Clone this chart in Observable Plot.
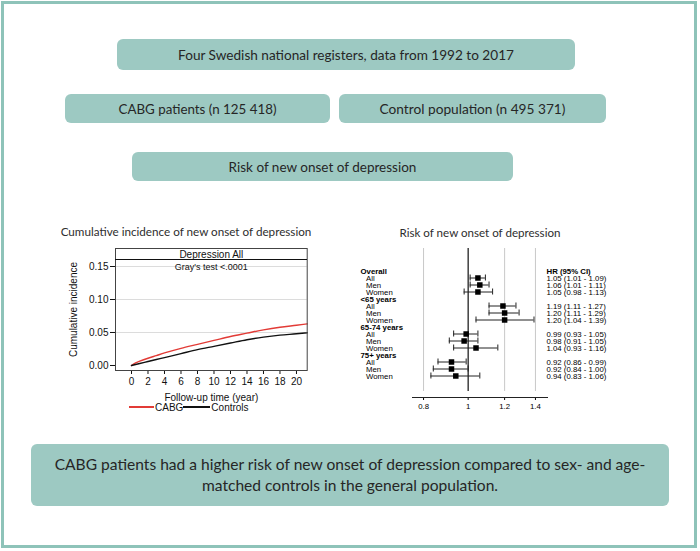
<!DOCTYPE html>
<html><head><meta charset="utf-8">
<script src="https://cdn.jsdelivr.net/npm/d3@7"></script>
<script src="https://cdn.jsdelivr.net/npm/@observablehq/plot@0.6"></script>
<style>
body{margin:0;background:#fff;}
#page{position:relative;width:700px;height:551px;overflow:hidden;background:#fff;font-family:Lato,"Open Sans",sans-serif;}
.frame{position:absolute;left:1px;top:1px;width:696px;height:547px;box-sizing:border-box;border:3.5px solid #8ec3b9;}
.box{position:absolute;background:#9dc9c2;border-radius:6px;display:flex;flex-direction:column;align-items:center;justify-content:center;color:#262626;}
.box span{white-space:nowrap;display:inline-block;}
.title{position:absolute;white-space:nowrap;color:#2e2e2e;transform:translate(-50%,-50%);}
.chart{position:absolute;}
.arial{font-family:Arial,"Liberation Sans",sans-serif;color:#111;}
.hdr{position:absolute;left:115px;top:248px;width:192px;height:12px;border-bottom:1.2px solid #111;box-sizing:border-box;}
.legend{position:absolute;left:129px;top:401px;font-size:10px;line-height:13px;white-space:nowrap;display:flex;align-items:center;}
.legend i{display:inline-block;height:1.5px;position:relative;top:-0.5px;}
</style></head>
<body>
<div id="page">
  <div class="frame"></div>
  <div class="box" style="left:117px;top:39px;width:458px;height:31px;"><span id="t1"></span></div>
  <div class="box" style="left:65px;top:94px;width:265px;height:29px;"><span id="t2"></span></div>
  <div class="box" style="left:339px;top:94px;width:267px;height:29px;"><span id="t3"></span></div>
  <div class="box" style="left:132px;top:152px;width:381px;height:29px;"><span id="t4"></span></div>
  <div class="box" style="left:31px;top:444px;width:638px;height:62px;line-height:21px;"><span id="b1"></span><span id="b2"></span></div>
  <div class="title" id="lt" style="left:186px;top:231px;"></div>
  <div class="title" id="rt" style="left:480px;top:232px;"></div>
  <div class="chart" id="left" style="left:40px;top:240px;"></div>
  <div class="hdr"></div>
  <div class="legend arial" id="legend"></div>
  <div class="chart" id="right" style="left:355px;top:240px;"></div>
</div>
<script>
// ---- texts ----
const boxTexts = ["Four Swedish national registers, data from 1992 to 2017", "CABG patients (n 125 418)", "Control population (n 495 371)", "Risk of new onset of depression"];
const conclusion = ["CABG patients had a higher risk of new onset of depression compared to sex- and age-", "matched controls in the general population."];
const leftTitle = "Cumulative incidence of new onset of depression";
const rightTitle = "Risk of new onset of depression";
const panelTitle = "Depression All";
const testText = "Gray's test <.0001";

// ---- cumulative incidence data ----
const years = [0, 0.5, 1, 2, 3, 4, 6, 8, 10, 12, 14, 16, 18, 20, 21.3];
const cabg = [0, 0.004, 0.0065, 0.011, 0.015, 0.019, 0.026, 0.032, 0.038, 0.044, 0.049, 0.054, 0.058, 0.061, 0.063];
const controls = [0, 0.0015, 0.003, 0.006, 0.009, 0.012, 0.018, 0.024, 0.029, 0.034, 0.039, 0.043, 0.046, 0.048, 0.0495];
const seriesNames = ["CABG", "Controls"];
const seriesColors = ["#e23b36", "#111111"];
const xTicks = [0, 2, 4, 6, 8, 10, 12, 14, 16, 18, 20];
const yTicks = [0, 0.05, 0.10, 0.15];

// ---- forest plot data ----
const groups = ["Overall", "<65 years", "65-74 years", "75+ years"];
const subgroups = ["All", "Men", "Women"];
const hr = [1.05, 1.06, 1.05, 1.19, 1.20, 1.20, 0.99, 0.98, 1.04, 0.92, 0.92, 0.94];
const lo = [1.01, 1.01, 0.98, 1.11, 1.11, 1.04, 0.93, 0.91, 0.93, 0.86, 0.84, 0.83];
const hi = [1.09, 1.11, 1.13, 1.27, 1.29, 1.39, 1.05, 1.05, 1.16, 0.99, 1.00, 1.06];
const hrTicks = [0.8, 1, 1.2, 1.4];
const gridHR = [0.8, 1.2, 1.4];
const refHR = [1];
const hrHeader = "HR (95% CI)";

// ---- place texts ----
function setFit(el, text, target) {
  el.textContent = text;
  el.style.fontSize = "20px";
  const w = el.getBoundingClientRect().width;
  const fs = 20 * target / w;
  el.style.fontSize = fs + "px";
  return fs;
}
setFit(document.getElementById("t1"), boxTexts[0], 336);
setFit(document.getElementById("t2"), boxTexts[1], 158);
setFit(document.getElementById("t3"), boxTexts[2], 186);
setFit(document.getElementById("t4"), boxTexts[3], 188);
const fsb = setFit(document.getElementById("b1"), conclusion[0], 591);
const b2 = document.getElementById("b2"); b2.textContent = conclusion[1]; b2.style.fontSize = fsb + "px";
setFit(document.getElementById("lt"), leftTitle, 251);
setFit(document.getElementById("rt"), rightTitle, 161);

// ---- left chart ----
const curveData = seriesNames.flatMap((name, si) =>
  years.map((t, i) => ({t, v: (si === 0 ? cabg : controls)[i], group: name})));

const left = Plot.plot({
  width: 275, height: 165,
  marginLeft: 75, marginRight: 8.3, marginTop: 8, marginBottom: 35,
  style: {fontFamily: "Arial, 'Liberation Sans', sans-serif", fontSize: "10px", color: "#111", background: "transparent", overflow: "visible"},
  x: {domain: [-1.94, 21.3], ticks: xTicks, tickSize: 4, tickPadding: 3, label: "Follow-up time (year)", labelAnchor: "center", labelOffset: 30, labelArrow: "none"},
  y: {domain: [-0.0076, 0.1773], ticks: yTicks, tickFormat: ".2f", tickSize: 5, tickPadding: 2, label: "Cumulative incidence", labelAnchor: "center", labelOffset: 46, labelArrow: "none"},
  color: {domain: seriesNames, range: seriesColors},
  marks: [
    Plot.gridY(yTicks.slice(1), {stroke: "#dcdcdc", strokeOpacity: 1}),
    Plot.line(curveData, {x: "t", y: "v", stroke: "group", strokeWidth: 1.4, curve: "monotone-x"}),
    Plot.text([panelTitle], {text: d => d, frameAnchor: "top", lineAnchor: "middle", dy: 6, fontSize: 10}),
    Plot.text([testText], {text: d => d, frameAnchor: "top", lineAnchor: "middle", dy: 19, fontSize: 9}),
    Plot.frame({stroke: "#444"})
  ]
});
document.getElementById("left").append(left);

// legend
const legend = document.getElementById("legend");
seriesNames.forEach((name, i) => {
  const sw = document.createElement("i");
  sw.style.background = seriesColors[i];
  sw.style.width = (i === 0 ? 25 : 27) + "px";
  legend.append(sw);
  const s = document.createElement("span");
  s.textContent = name;
  s.style.marginLeft = "1px";
  legend.append(s);
});

// ---- forest plot ----
const rows = [];
groups.forEach((g, gi) => {
  rows.push({row: gi * 4, label: g, header: true});
  subgroups.forEach((s, si) => {
    const k = gi * 3 + si;
    rows.push({row: gi * 4 + si + 1, label: s, header: false, hr: hr[k], lo: lo[k], hi: hi[k],
      text: `${hr[k].toFixed(2)} (${lo[k].toFixed(2)} - ${hi[k].toFixed(2)})`});
  });
});
const heads = rows.filter(r => r.header);
const est = rows.filter(r => !r.header);

const right = Plot.plot({
  width: 330, height: 175,
  marginLeft: 57, marginRight: 138, marginTop: 8, marginBottom: 18,
  style: {fontFamily: "Arial, 'Liberation Sans', sans-serif", fontSize: "7.8px", color: "#000", background: "transparent", overflow: "visible"},
  x: {type: "log", domain: [0.757, 1.487], ticks: hrTicks, tickFormat: d => String(d), tickSize: 3, tickPadding: 3, label: null},
  y: {type: "band", domain: d3.range(rows.length), padding: 0, insetTop: 14.9, insetBottom: 13.2, axis: null},
  marks: [
    Plot.ruleX(gridHR, {stroke: "#c8c8c8", insetBottom: 6}),
    Plot.ruleX(refHR, {stroke: "#222", strokeWidth: 1.3, insetBottom: 6}),
    Plot.ruleY(est, {y: "row", x1: "lo", x2: "hi", stroke: "#222", strokeWidth: 1}),
    Plot.tickX(est, {y: "row", x: "lo", stroke: "#222", strokeWidth: 1, insetTop: 0.5, insetBottom: 0.5}),
    Plot.tickX(est, {y: "row", x: "hi", stroke: "#222", strokeWidth: 1, insetTop: 0.5, insetBottom: 0.5}),
    Plot.dot(est, {y: "row", x: "hr", symbol: "square", r: 3.1, fill: "#000", stroke: "none"}),
    Plot.text(heads, {y: "row", text: "label", frameAnchor: "left", textAnchor: "start", dx: -52, fontWeight: "bold"}),
    Plot.text(est, {y: "row", text: "label", frameAnchor: "left", textAnchor: "start", dx: -46.5}),
    Plot.text(heads.slice(0, 1), {y: "row", text: () => hrHeader, frameAnchor: "right", textAnchor: "start", dx: -1, fontWeight: "bold"}),
    Plot.text(est, {y: "row", text: "text", frameAnchor: "right", textAnchor: "start", dx: -1}),
    Plot.frame({anchor: "bottom", stroke: "#222"})
  ]
});
document.getElementById("right").append(right);
</script>
</body></html>
